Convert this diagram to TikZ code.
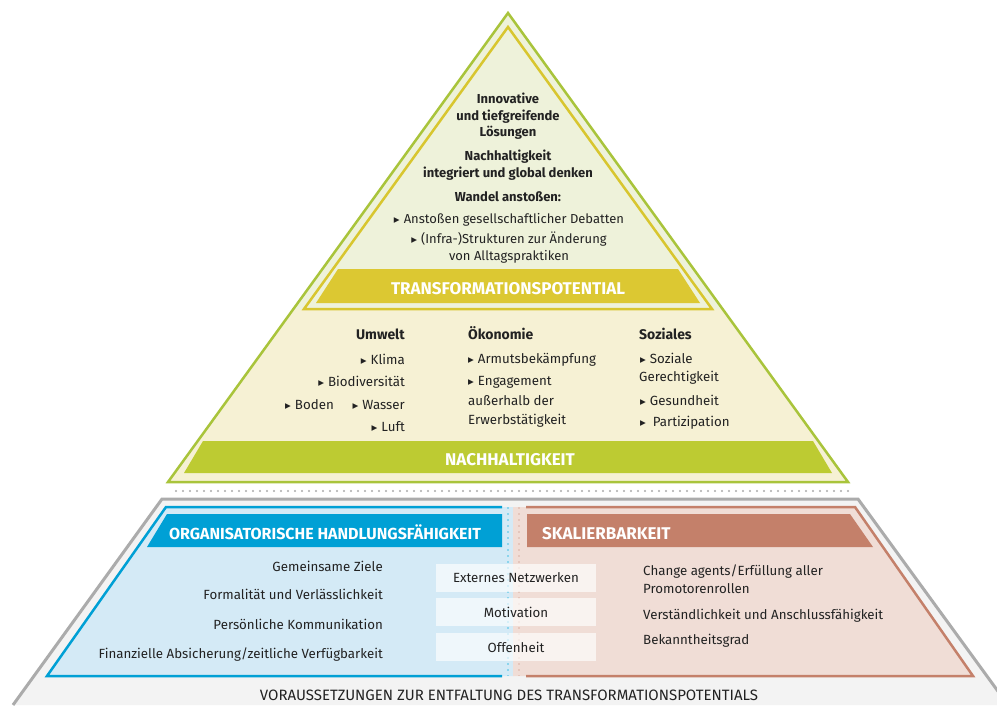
\documentclass[tikz,border=0pt]{standalone}
\usepackage{fontspec}
\setmainfont{Fira Sans}
\newfontfamily\symf{DejaVu Sans}
\definecolor{lgreen}{HTML}{A9C43B}
\definecolor{ylw}{HTML}{D8C62F}
\definecolor{topfill}{HTML}{EEF2DA}
\definecolor{cream}{HTML}{F6F1D4}
\definecolor{tband}{HTML}{DCC832}
\definecolor{nband}{HTML}{BDCB32}
\definecolor{blu}{HTML}{00A0D5}
\definecolor{blufill}{HTML}{D4EAF6}
\definecolor{brn}{HTML}{C4806A}
\definecolor{brnfill}{HTML}{F0DDD6}
\definecolor{gry}{HTML}{ABABAB}
\definecolor{gryfill}{HTML}{F3F3F3}
\definecolor{txt}{HTML}{222222}
\newcommand{\tri}{{\symf\fontsize{11.5}{11.5}\selectfont ▸}\hspace{4pt}}
\tikzset{
  topb/.style={text=txt, inner sep=0pt, font=\bfseries\fontsize{13}{15}\selectfont, anchor=base},
  topr/.style={text=txt, inner sep=0pt, font=\fontsize{13}{15}\selectfont, anchor=base},
  midb/.style={text=txt, inner sep=0pt, font=\bfseries\fontsize{14}{16}\selectfont},
  midr/.style={text=txt, inner sep=0pt, font=\fontsize{13.3}{15}\selectfont},
  botr/.style={text=txt, inner sep=0pt, font=\fontsize{13.3}{15}\selectfont},
  bandtxt/.style={text=white, inner sep=0pt, font=\bfseries\fontsize{17}{19}\selectfont},
  midbox/.style={fill=white, fill opacity=0.65, text opacity=1, text=txt, inner sep=0pt,
    minimum width=160pt, minimum height=28pt, font=\fontsize{13.3}{15}\selectfont},
}
\begin{document}
\begin{tikzpicture}[x=1pt,y=-1pt,line join=miter]
\useasboundingbox (0,0) rectangle (997,705);
\fill[white] (0,0) rectangle (997,705);
% ---------- upper pyramid ----------
\fill[cream] (508,13) -- (168,482) -- (848,482) -- cycle;
\fill[topfill] (508,13) -- (293.4,309) -- (722.6,309) -- cycle;
\draw[ylw, line width=2.5pt, fill=topfill] (508,27) -- (304,309) -- (712,309) -- cycle;
\fill[tband] (338,269) -- (678,269) -- (700,303) -- (316,303) -- cycle;
\fill[nband] (203,441) -- (813,441) -- (832,473) -- (184,473) -- cycle;
\draw[lgreen, line width=2.5pt] (508,13) -- (168,482) -- (848,482) -- cycle;
% dotted separator
\draw[gry, line width=2.2pt, line cap=round, dash pattern=on 0pt off 7pt] (176,491) -- (850,491);
% ---------- lower trapezoid ----------
\fill[gryfill] (162,499) -- (858,499) -- (1008,705) -- (13,705) -- cycle;
\draw[gry, line width=3pt] (13,705) -- (162,499) -- (858,499) -- (1008,705);
\fill[blufill] (166,507) -- (513,507) -- (513,676) -- (47,676) -- cycle;
\fill[brnfill] (513,507) -- (855,507) -- (973,676) -- (513,676) -- cycle;
\draw[blu, line width=2.5pt] (502,507) -- (166,507) -- (47,676) -- (502,676);
\draw[brn, line width=2.5pt] (526,507) -- (855,507) -- (973,676) -- (526,676);
\draw[blu!45, line width=2pt, dash pattern=on 2pt off 4pt] (508,507) -- (508,676);
\draw[brn!45, line width=2pt, dash pattern=on 2pt off 4pt] (519,507) -- (519,676);
\fill[blu] (167,514) -- (502,514) -- (502,547) -- (147,547) -- cycle;
\fill[brn] (527,514) -- (850,514) -- (873,547) -- (527,547) -- cycle;
% ---------- top texts ----------
\node[topb] (t1) at (508,103) {Innovative};
\node[topb] (t2) at (508,120) {und tiefgreifende};
\node[topb] (t3) at (508,136) {Lösungen};
\node[topb] (t4) at (508,160) {Nachhaltigkeit};
\node[topb] (t5) at (508,177) {integriert und global denken};
\node[topb] (t6) at (508,201) {Wandel anstoßen:};
\node[topr] (t7) at (509,223) {\tri Anstoßen gesellschaftlicher Debatten};
\node[topr] (t8) at (509,243) {\tri (Infra-)Strukturen zur Änderung};
\node[topr] (t9) at (509,260) {von Alltagspraktiken};
\node[bandtxt, anchor=base] (tp) at (508,294) {TRANSFORMATIONSPOTENTIAL};
% ---------- middle texts ----------
\node[midb, anchor=base east] (u0) at (405,339) {Umwelt};
\node[midr, anchor=base east] (u1) at (405,364) {\tri Klima};
\node[midr, anchor=base east] (u2) at (405,386) {\tri Biodiversität};
\node[midr, anchor=base east] (u3) at (405,409) {\tri Wasser};
\node[midr, anchor=base west] (u4) at (285,409) {\tri Boden};
\node[midr, anchor=base east] (u5) at (405,431) {\tri Luft};
\node[midb, anchor=base west] (o0) at (468,339) {Ökonomie};
\node[midr, anchor=base west] (o1) at (468,363) {\tri Armutsbekämpfung};
\node[midr, anchor=base west] (o2) at (468,385) {\tri Engagement};
\node[midr, anchor=base west] (o3) at (468,405) {außerhalb der};
\node[midr, anchor=base west] (o4) at (468,424) {Erwerbstätigkeit};
\node[midb, anchor=base west] (s0) at (639,339) {Soziales};
\node[midr, anchor=base west] (s1) at (640,363) {\tri Soziale};
\node[midr, anchor=base west] (s2) at (639,381) {Gerechtigkeit};
\node[midr, anchor=base west] (s3) at (640,405) {\tri Gesundheit};
\node[midr, anchor=base west] (s4) at (640,426) {\tri\hspace{3pt}Partizipation};
\node[bandtxt, anchor=base] (nh) at (510,465) {NACHHALTIGKEIT};
% ---------- bottom texts ----------
\node[bandtxt, anchor=base, font=\bfseries\fontsize{16}{18}\selectfont] (oh) at (325,539) {ORGANISATORISCHE HANDLUNGSFÄHIGKEIT};
\node[bandtxt, anchor=base west] (sk) at (542,539) {SKALIERBARKEIT};
\node[botr, anchor=base east] (l1) at (383,571) {Gemeinsame Ziele};
\node[botr, anchor=base east] (l2) at (383,599) {Formalität und Verlässlichkeit};
\node[botr, anchor=base east] (l3) at (383,629) {Persönliche Kommunikation};
\node[botr, anchor=base east] (l4) at (383,658) {Finanzielle Absicherung/zeitliche Verfügbarkeit};
\node[midbox] (m1) at (516,578) {Externes Netzwerken};
\node[midbox] (m2) at (516,612) {Motivation};
\node[midbox] (m3) at (516,647) {Offenheit};
\node[botr, anchor=base west] (r1) at (643,575) {Change agents/Erfüllung aller};
\node[botr, anchor=base west] (r2) at (643,593) {Promotorenrollen};
\node[botr, anchor=base west] (r3) at (643,619) {Verständlichkeit und Anschlussfähigkeit};
\node[botr, anchor=base west] (r4) at (643,644) {Bekanntheitsgrad};
\node[text=txt, inner sep=0pt, font=\fontsize{15}{17}\selectfont, anchor=base] (vt) at (509,700) {VORAUSSETZUNGEN ZUR ENTFALTUNG DES TRANSFORMATIONSPOTENTIALS};
\end{tikzpicture}
\end{document}
